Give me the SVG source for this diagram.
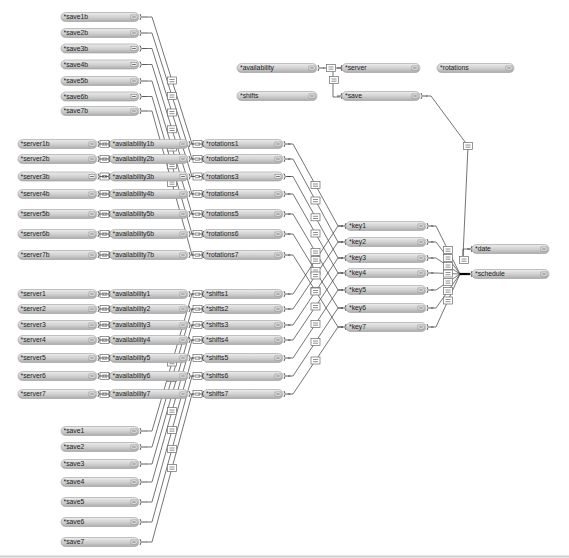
<svg xmlns="http://www.w3.org/2000/svg" xmlns:xlink="http://www.w3.org/1999/xlink" width="569" height="558" viewBox="0 0 569 558">
<style>
.n rect.b{fill:url(#g);stroke:#9a9a9a;stroke-width:.6}
.n text{font-family:"Liberation Sans",Arial,sans-serif;font-size:6.8px;fill:#222}
.ln{fill:none;stroke:#3a3a3a;stroke-width:.7}
.p{fill:none;stroke:#333;stroke-width:.8}
</style>
<defs>
<linearGradient id="g" x1="0" y1="0" x2="0" y2="1"><stop offset="0" stop-color="#ececec"/><stop offset=".5" stop-color="#d2d2d2"/><stop offset="1" stop-color="#adadad"/></linearGradient>
<g id="ni"><rect x="0" y="0" width="6" height="4" fill="#f2f2f2" stroke="#777" stroke-width=".5"/><path d="M1.2,2h3.6" stroke="#333" stroke-width=".7"/></g>
<g id="fb"><rect x="-4.5" y="-3.5" width="9" height="7" fill="#fff" stroke="#6a6a6a" stroke-width=".7"/><path d="M-2.5,-1h5M-2.5,1.2h5" stroke="#444" stroke-width=".6"/></g>
<path id="po" class="p" d="M0,-3q2.5,3 0,6M2,0h4.5"/>
<path id="pi" class="p" d="M0,-3q-2.5,3 0,6M-2,0h-3"/>
</defs>
<rect width="569" height="558" fill="#fff"/>

<g id="connectors">
<path class="ln" d="M146,17H152L192,144H193"/>
<path class="ln" d="M146,33H152L192,159H193"/>
<path class="ln" d="M146,48.5H152L192,176.5H193"/>
<path class="ln" d="M146,64.5H152L192,194H193"/>
<path class="ln" d="M146,81H152L192,214H193"/>
<path class="ln" d="M146,96.5H152L192,234H193"/>
<path class="ln" d="M146,111H152L192,255H193"/>
<path class="ln" d="M146,431H152L192,294H193"/>
<path class="ln" d="M146,447H152L192,309H193"/>
<path class="ln" d="M146,464H152L192,325H193"/>
<path class="ln" d="M146,482H152L192,340H193"/>
<path class="ln" d="M146,502H152L192,358H193"/>
<path class="ln" d="M146,522H152L192,376H193"/>
<path class="ln" d="M146,542H152L192,394H193"/>
<path class="ln" d="M104,144H108M104,159H108M104,176.5H108M104,194H108M104,214H108M104,234H108M104,255H108M104,294H108M104,309H108M104,325H108M104,340H108M104,358H108M104,376H108M104,394H108"/>
<path class="ln" d="M288,144H293L338,226H343"/>
<path class="ln" d="M288,159H293L338,242H343"/>
<path class="ln" d="M288,176.5H293L338,258H343"/>
<path class="ln" d="M288,194H293L338,273H343"/>
<path class="ln" d="M288,214H293L338,290H343"/>
<path class="ln" d="M288,234H293L338,308H343"/>
<path class="ln" d="M288,255H293L338,327H343"/>
<path class="ln" d="M288,294H293L338,226H343"/>
<path class="ln" d="M288,309H293L338,242H343"/>
<path class="ln" d="M288,325H293L338,258H343"/>
<path class="ln" d="M288,340H293L338,273H343"/>
<path class="ln" d="M288,358H293L338,290H343"/>
<path class="ln" d="M288,376H293L338,308H343"/>
<path class="ln" d="M288,394H293L338,327H343"/>
<path class="ln" d="M431,226H436L460,274"/>
<path class="ln" d="M431,242H436L460,274"/>
<path class="ln" d="M431,258H436L460,274"/>
<path class="ln" d="M431,273H436L460,274"/>
<path class="ln" d="M431,290H436L460,274"/>
<path class="ln" d="M431,308H436L460,274"/>
<path class="ln" d="M431,327H436L460,274"/>
<path d="M460,274H470" stroke="#000" stroke-width="2.2"/>
<path class="ln" d="M426,96H431L468,146L463,256M463,256V249H470"/>
<path class="ln" d="M323,68H342M333,72V97H340"/>
<use xlink:href="#fb" x="172" y="80.5"/>
<use xlink:href="#fb" x="172" y="96"/>
<use xlink:href="#fb" x="172" y="112.5"/>
<use xlink:href="#fb" x="172" y="129.3"/>
<use xlink:href="#fb" x="172" y="147.5"/>
<use xlink:href="#fb" x="172" y="165.3"/>
<use xlink:href="#fb" x="172" y="183"/>
<use xlink:href="#fb" x="172" y="362.5"/>
<use xlink:href="#fb" x="172" y="378"/>
<use xlink:href="#fb" x="172" y="394.5"/>
<use xlink:href="#fb" x="172" y="411"/>
<use xlink:href="#fb" x="172" y="430"/>
<use xlink:href="#fb" x="172" y="449"/>
<use xlink:href="#fb" x="172" y="468"/>
<use xlink:href="#fb" x="315.5" y="185"/>
<use xlink:href="#fb" x="315.5" y="200.5"/>
<use xlink:href="#fb" x="315.5" y="217.3"/>
<use xlink:href="#fb" x="315.5" y="233.5"/>
<use xlink:href="#fb" x="315.5" y="252"/>
<use xlink:href="#fb" x="315.5" y="271"/>
<use xlink:href="#fb" x="315.5" y="291"/>
<use xlink:href="#fb" x="315.5" y="260"/>
<use xlink:href="#fb" x="315.5" y="275.5"/>
<use xlink:href="#fb" x="315.5" y="291.5"/>
<use xlink:href="#fb" x="315.5" y="306.5"/>
<use xlink:href="#fb" x="315.5" y="324"/>
<use xlink:href="#fb" x="315.5" y="342"/>
<use xlink:href="#fb" x="315.5" y="360.5"/>
<use xlink:href="#fb" x="448" y="250"/>
<use xlink:href="#fb" x="448" y="258"/>
<use xlink:href="#fb" x="448" y="266"/>
<use xlink:href="#fb" x="448" y="273.5"/>
<use xlink:href="#fb" x="448" y="282"/>
<use xlink:href="#fb" x="448" y="291"/>
<use xlink:href="#fb" x="448" y="300.5"/>
<use xlink:href="#fb" x="468" y="146"/>
<use xlink:href="#fb" x="464" y="260"/>
<use xlink:href="#fb" x="334" y="80"/>
<use xlink:href="#fb" x="331" y="68"/>
<use xlink:href="#fb" x="104.5" y="144"/><use xlink:href="#fb" x="104.5" y="159"/><use xlink:href="#fb" x="104.5" y="176.5"/><use xlink:href="#fb" x="104.5" y="194"/><use xlink:href="#fb" x="104.5" y="214"/><use xlink:href="#fb" x="104.5" y="234"/><use xlink:href="#fb" x="104.5" y="255"/>
<use xlink:href="#fb" x="104.5" y="294"/><use xlink:href="#fb" x="104.5" y="309"/><use xlink:href="#fb" x="104.5" y="325"/><use xlink:href="#fb" x="104.5" y="340"/><use xlink:href="#fb" x="104.5" y="358"/><use xlink:href="#fb" x="104.5" y="376"/><use xlink:href="#fb" x="104.5" y="394"/>
<use xlink:href="#fb" x="197.5" y="144"/><use xlink:href="#fb" x="197.5" y="159"/><use xlink:href="#fb" x="197.5" y="176.5"/><use xlink:href="#fb" x="197.5" y="194"/><use xlink:href="#fb" x="197.5" y="214"/><use xlink:href="#fb" x="197.5" y="234"/><use xlink:href="#fb" x="197.5" y="255"/>
<use xlink:href="#fb" x="197.5" y="294"/><use xlink:href="#fb" x="197.5" y="309"/><use xlink:href="#fb" x="197.5" y="325"/><use xlink:href="#fb" x="197.5" y="340"/><use xlink:href="#fb" x="197.5" y="358"/><use xlink:href="#fb" x="197.5" y="376"/><use xlink:href="#fb" x="197.5" y="394"/>
</g>

<g id="save1b" class="n"><rect class="b" x="61" y="12.5" width="78" height="9" rx="4.5"/><text x="63.5" y="19.4">*save1b</text><use xlink:href="#ni" x="131" y="15"/><use xlink:href="#po" x="140" y="17"/></g>
<g id="save2b" class="n"><rect class="b" x="61" y="28.5" width="78" height="9" rx="4.5"/><text x="63.5" y="35.4">*save2b</text><use xlink:href="#ni" x="131" y="31"/><use xlink:href="#po" x="140" y="33"/></g>
<g id="save3b" class="n"><rect class="b" x="61" y="44" width="78" height="9" rx="4.5"/><text x="63.5" y="50.9">*save3b</text><use xlink:href="#ni" x="131" y="46.5"/><use xlink:href="#po" x="140" y="48.5"/></g>
<g id="save4b" class="n"><rect class="b" x="61" y="60" width="78" height="9" rx="4.5"/><text x="63.5" y="66.9">*save4b</text><use xlink:href="#ni" x="131" y="62.5"/><use xlink:href="#po" x="140" y="64.5"/></g>
<g id="save5b" class="n"><rect class="b" x="61" y="76.5" width="78" height="9" rx="4.5"/><text x="63.5" y="83.4">*save5b</text><use xlink:href="#ni" x="131" y="79"/><use xlink:href="#po" x="140" y="81"/></g>
<g id="save6b" class="n"><rect class="b" x="61" y="92" width="78" height="9" rx="4.5"/><text x="63.5" y="98.9">*save6b</text><use xlink:href="#ni" x="131" y="94.5"/><use xlink:href="#po" x="140" y="96.5"/></g>
<g id="save7b" class="n"><rect class="b" x="61" y="106.5" width="78" height="9" rx="4.5"/><text x="63.5" y="113.4">*save7b</text><use xlink:href="#ni" x="131" y="109"/><use xlink:href="#po" x="140" y="111"/></g>

<g id="server1b" class="n"><rect class="b" x="18" y="139.5" width="79" height="9" rx="4.5"/><text x="20.5" y="146.4">*server1b</text><use xlink:href="#ni" x="89" y="142"/><use xlink:href="#po" x="98" y="144"/></g>
<g id="server2b" class="n"><rect class="b" x="18" y="154.5" width="79" height="9" rx="4.5"/><text x="20.5" y="161.4">*server2b</text><use xlink:href="#ni" x="89" y="157"/><use xlink:href="#po" x="98" y="159"/></g>
<g id="server3b" class="n"><rect class="b" x="18" y="172" width="79" height="9" rx="4.5"/><text x="20.5" y="178.9">*server3b</text><use xlink:href="#ni" x="89" y="174.5"/><use xlink:href="#po" x="98" y="176.5"/></g>
<g id="server4b" class="n"><rect class="b" x="18" y="189.5" width="79" height="9" rx="4.5"/><text x="20.5" y="196.4">*server4b</text><use xlink:href="#ni" x="89" y="192"/><use xlink:href="#po" x="98" y="194"/></g>
<g id="server5b" class="n"><rect class="b" x="18" y="209.5" width="79" height="9" rx="4.5"/><text x="20.5" y="216.4">*server5b</text><use xlink:href="#ni" x="89" y="212"/><use xlink:href="#po" x="98" y="214"/></g>
<g id="server6b" class="n"><rect class="b" x="18" y="229.5" width="79" height="9" rx="4.5"/><text x="20.5" y="236.4">*server6b</text><use xlink:href="#ni" x="89" y="232"/><use xlink:href="#po" x="98" y="234"/></g>
<g id="server7b" class="n"><rect class="b" x="18" y="250.5" width="79" height="9" rx="4.5"/><text x="20.5" y="257.4">*server7b</text><use xlink:href="#ni" x="89" y="253"/><use xlink:href="#po" x="98" y="255"/></g>

<g id="availability1b" class="n"><rect class="b" x="110" y="139.5" width="78" height="9" rx="4.5"/><text x="112.5" y="146.4">*availability1b</text><use xlink:href="#ni" x="180" y="142"/><use xlink:href="#po" x="189" y="144"/><use xlink:href="#pi" x="110" y="144"/></g>
<g id="availability2b" class="n"><rect class="b" x="110" y="154.5" width="78" height="9" rx="4.5"/><text x="112.5" y="161.4">*availability2b</text><use xlink:href="#ni" x="180" y="157"/><use xlink:href="#po" x="189" y="159"/><use xlink:href="#pi" x="110" y="159"/></g>
<g id="availability3b" class="n"><rect class="b" x="110" y="172" width="78" height="9" rx="4.5"/><text x="112.5" y="178.9">*availability3b</text><use xlink:href="#ni" x="180" y="174.5"/><use xlink:href="#po" x="189" y="176.5"/><use xlink:href="#pi" x="110" y="176.5"/></g>
<g id="availability4b" class="n"><rect class="b" x="110" y="189.5" width="78" height="9" rx="4.5"/><text x="112.5" y="196.4">*availability4b</text><use xlink:href="#ni" x="180" y="192"/><use xlink:href="#po" x="189" y="194"/><use xlink:href="#pi" x="110" y="194"/></g>
<g id="availability5b" class="n"><rect class="b" x="110" y="209.5" width="78" height="9" rx="4.5"/><text x="112.5" y="216.4">*availability5b</text><use xlink:href="#ni" x="180" y="212"/><use xlink:href="#po" x="189" y="214"/><use xlink:href="#pi" x="110" y="214"/></g>
<g id="availability6b" class="n"><rect class="b" x="110" y="229.5" width="78" height="9" rx="4.5"/><text x="112.5" y="236.4">*availability6b</text><use xlink:href="#ni" x="180" y="232"/><use xlink:href="#po" x="189" y="234"/><use xlink:href="#pi" x="110" y="234"/></g>
<g id="availability7b" class="n"><rect class="b" x="110" y="250.5" width="78" height="9" rx="4.5"/><text x="112.5" y="257.4">*availability7b</text><use xlink:href="#ni" x="180" y="253"/><use xlink:href="#po" x="189" y="255"/><use xlink:href="#pi" x="110" y="255"/></g>

<g id="rotations1" class="n"><rect class="b" x="203" y="139.5" width="80" height="9" rx="4.5"/><text x="206" y="146.4">*rotations1</text><use xlink:href="#ni" x="275" y="142"/><use xlink:href="#po" x="284" y="144"/><use xlink:href="#pi" x="203.5" y="144"/></g>
<g id="rotations2" class="n"><rect class="b" x="203" y="154.5" width="80" height="9" rx="4.5"/><text x="206" y="161.4">*rotations2</text><use xlink:href="#ni" x="275" y="157"/><use xlink:href="#po" x="284" y="159"/><use xlink:href="#pi" x="203.5" y="159"/></g>
<g id="rotations3" class="n"><rect class="b" x="203" y="172" width="80" height="9" rx="4.5"/><text x="206" y="178.9">*rotations3</text><use xlink:href="#ni" x="275" y="174.5"/><use xlink:href="#po" x="284" y="176.5"/><use xlink:href="#pi" x="203.5" y="176.5"/></g>
<g id="rotations4" class="n"><rect class="b" x="203" y="189.5" width="80" height="9" rx="4.5"/><text x="206" y="196.4">*rotations4</text><use xlink:href="#ni" x="275" y="192"/><use xlink:href="#po" x="284" y="194"/><use xlink:href="#pi" x="203.5" y="194"/></g>
<g id="rotations5" class="n"><rect class="b" x="203" y="209.5" width="80" height="9" rx="4.5"/><text x="206" y="216.4">*rotations5</text><use xlink:href="#ni" x="275" y="212"/><use xlink:href="#po" x="284" y="214"/><use xlink:href="#pi" x="203.5" y="214"/></g>
<g id="rotations6" class="n"><rect class="b" x="203" y="229.5" width="80" height="9" rx="4.5"/><text x="206" y="236.4">*rotations6</text><use xlink:href="#ni" x="275" y="232"/><use xlink:href="#po" x="284" y="234"/><use xlink:href="#pi" x="203.5" y="234"/></g>
<g id="rotations7" class="n"><rect class="b" x="203" y="250.5" width="80" height="9" rx="4.5"/><text x="206" y="257.4">*rotations7</text><use xlink:href="#ni" x="275" y="253"/><use xlink:href="#po" x="284" y="255"/><use xlink:href="#pi" x="203.5" y="255"/></g>

<g id="server1" class="n"><rect class="b" x="18" y="289.5" width="79" height="9" rx="4.5"/><text x="20.5" y="296.4">*server1</text><use xlink:href="#ni" x="89" y="292"/><use xlink:href="#po" x="98" y="294"/></g>
<g id="server2" class="n"><rect class="b" x="18" y="304.5" width="79" height="9" rx="4.5"/><text x="20.5" y="311.4">*server2</text><use xlink:href="#ni" x="89" y="307"/><use xlink:href="#po" x="98" y="309"/></g>
<g id="server3" class="n"><rect class="b" x="18" y="320.5" width="79" height="9" rx="4.5"/><text x="20.5" y="327.4">*server3</text><use xlink:href="#ni" x="89" y="323"/><use xlink:href="#po" x="98" y="325"/></g>
<g id="server4" class="n"><rect class="b" x="18" y="335.5" width="79" height="9" rx="4.5"/><text x="20.5" y="342.4">*server4</text><use xlink:href="#ni" x="89" y="338"/><use xlink:href="#po" x="98" y="340"/></g>
<g id="server5" class="n"><rect class="b" x="18" y="353.5" width="79" height="9" rx="4.5"/><text x="20.5" y="360.4">*server5</text><use xlink:href="#ni" x="89" y="356"/><use xlink:href="#po" x="98" y="358"/></g>
<g id="server6" class="n"><rect class="b" x="18" y="371.5" width="79" height="9" rx="4.5"/><text x="20.5" y="378.4">*server6</text><use xlink:href="#ni" x="89" y="374"/><use xlink:href="#po" x="98" y="376"/></g>
<g id="server7" class="n"><rect class="b" x="18" y="389.5" width="79" height="9" rx="4.5"/><text x="20.5" y="396.4">*server7</text><use xlink:href="#ni" x="89" y="392"/><use xlink:href="#po" x="98" y="394"/></g>

<g id="availability1" class="n"><rect class="b" x="110" y="289.5" width="78" height="9" rx="4.5"/><text x="112.5" y="296.4">*availability1</text><use xlink:href="#ni" x="180" y="292"/><use xlink:href="#po" x="189" y="294"/><use xlink:href="#pi" x="110" y="294"/></g>
<g id="availability2" class="n"><rect class="b" x="110" y="304.5" width="78" height="9" rx="4.5"/><text x="112.5" y="311.4">*availability2</text><use xlink:href="#ni" x="180" y="307"/><use xlink:href="#po" x="189" y="309"/><use xlink:href="#pi" x="110" y="309"/></g>
<g id="availability3" class="n"><rect class="b" x="110" y="320.5" width="78" height="9" rx="4.5"/><text x="112.5" y="327.4">*availability3</text><use xlink:href="#ni" x="180" y="323"/><use xlink:href="#po" x="189" y="325"/><use xlink:href="#pi" x="110" y="325"/></g>
<g id="availability4" class="n"><rect class="b" x="110" y="335.5" width="78" height="9" rx="4.5"/><text x="112.5" y="342.4">*availability4</text><use xlink:href="#ni" x="180" y="338"/><use xlink:href="#po" x="189" y="340"/><use xlink:href="#pi" x="110" y="340"/></g>
<g id="availability5" class="n"><rect class="b" x="110" y="353.5" width="78" height="9" rx="4.5"/><text x="112.5" y="360.4">*availability5</text><use xlink:href="#ni" x="180" y="356"/><use xlink:href="#po" x="189" y="358"/><use xlink:href="#pi" x="110" y="358"/></g>
<g id="availability6" class="n"><rect class="b" x="110" y="371.5" width="78" height="9" rx="4.5"/><text x="112.5" y="378.4">*availability6</text><use xlink:href="#ni" x="180" y="374"/><use xlink:href="#po" x="189" y="376"/><use xlink:href="#pi" x="110" y="376"/></g>
<g id="availability7" class="n"><rect class="b" x="110" y="389.5" width="78" height="9" rx="4.5"/><text x="112.5" y="396.4">*availability7</text><use xlink:href="#ni" x="180" y="392"/><use xlink:href="#po" x="189" y="394"/><use xlink:href="#pi" x="110" y="394"/></g>

<g id="shifts1" class="n"><rect class="b" x="203" y="289.5" width="80" height="9" rx="4.5"/><text x="206" y="296.4">*shifts1</text><use xlink:href="#ni" x="275" y="292"/><use xlink:href="#po" x="284" y="294"/><use xlink:href="#pi" x="203.5" y="294"/></g>
<g id="shifts2" class="n"><rect class="b" x="203" y="304.5" width="80" height="9" rx="4.5"/><text x="206" y="311.4">*shifts2</text><use xlink:href="#ni" x="275" y="307"/><use xlink:href="#po" x="284" y="309"/><use xlink:href="#pi" x="203.5" y="309"/></g>
<g id="shifts3" class="n"><rect class="b" x="203" y="320.5" width="80" height="9" rx="4.5"/><text x="206" y="327.4">*shifts3</text><use xlink:href="#ni" x="275" y="323"/><use xlink:href="#po" x="284" y="325"/><use xlink:href="#pi" x="203.5" y="325"/></g>
<g id="shifts4" class="n"><rect class="b" x="203" y="335.5" width="80" height="9" rx="4.5"/><text x="206" y="342.4">*shifts4</text><use xlink:href="#ni" x="275" y="338"/><use xlink:href="#po" x="284" y="340"/><use xlink:href="#pi" x="203.5" y="340"/></g>
<g id="shifts5" class="n"><rect class="b" x="203" y="353.5" width="80" height="9" rx="4.5"/><text x="206" y="360.4">*shifts5</text><use xlink:href="#ni" x="275" y="356"/><use xlink:href="#po" x="284" y="358"/><use xlink:href="#pi" x="203.5" y="358"/></g>
<g id="shifts6" class="n"><rect class="b" x="203" y="371.5" width="80" height="9" rx="4.5"/><text x="206" y="378.4">*shifts6</text><use xlink:href="#ni" x="275" y="374"/><use xlink:href="#po" x="284" y="376"/><use xlink:href="#pi" x="203.5" y="376"/></g>
<g id="shifts7" class="n"><rect class="b" x="203" y="389.5" width="80" height="9" rx="4.5"/><text x="206" y="396.4">*shifts7</text><use xlink:href="#ni" x="275" y="392"/><use xlink:href="#po" x="284" y="394"/><use xlink:href="#pi" x="203.5" y="394"/></g>

<g id="save1" class="n"><rect class="b" x="61" y="426.5" width="78" height="9" rx="4.5"/><text x="63.5" y="433.4">*save1</text><use xlink:href="#ni" x="131" y="429"/><use xlink:href="#po" x="140" y="431"/></g>
<g id="save2" class="n"><rect class="b" x="61" y="442.5" width="78" height="9" rx="4.5"/><text x="63.5" y="449.4">*save2</text><use xlink:href="#ni" x="131" y="445"/><use xlink:href="#po" x="140" y="447"/></g>
<g id="save3" class="n"><rect class="b" x="61" y="459.5" width="78" height="9" rx="4.5"/><text x="63.5" y="466.4">*save3</text><use xlink:href="#ni" x="131" y="462"/><use xlink:href="#po" x="140" y="464"/></g>
<g id="save4" class="n"><rect class="b" x="61" y="477.5" width="78" height="9" rx="4.5"/><text x="63.5" y="484.4">*save4</text><use xlink:href="#ni" x="131" y="480"/><use xlink:href="#po" x="140" y="482"/></g>
<g id="save5" class="n"><rect class="b" x="61" y="497.5" width="78" height="9" rx="4.5"/><text x="63.5" y="504.4">*save5</text><use xlink:href="#ni" x="131" y="500"/><use xlink:href="#po" x="140" y="502"/></g>
<g id="save6" class="n"><rect class="b" x="61" y="517.5" width="78" height="9" rx="4.5"/><text x="63.5" y="524.4">*save6</text><use xlink:href="#ni" x="131" y="520"/><use xlink:href="#po" x="140" y="522"/></g>
<g id="save7" class="n"><rect class="b" x="61" y="537.5" width="78" height="9" rx="4.5"/><text x="63.5" y="544.4">*save7</text><use xlink:href="#ni" x="131" y="540"/><use xlink:href="#po" x="140" y="542"/></g>

<g id="key1" class="n"><rect class="b" x="346" y="221.5" width="80" height="9" rx="4.5"/><text x="349" y="228.4">*key1</text><use xlink:href="#ni" x="418" y="224"/><use xlink:href="#po" x="427" y="226"/><use xlink:href="#pi" x="346" y="226"/></g>
<g id="key2" class="n"><rect class="b" x="346" y="237.5" width="80" height="9" rx="4.5"/><text x="349" y="244.4">*key2</text><use xlink:href="#ni" x="418" y="240"/><use xlink:href="#po" x="427" y="242"/><use xlink:href="#pi" x="346" y="242"/></g>
<g id="key3" class="n"><rect class="b" x="346" y="253.5" width="80" height="9" rx="4.5"/><text x="349" y="260.4">*key3</text><use xlink:href="#ni" x="418" y="256"/><use xlink:href="#po" x="427" y="258"/><use xlink:href="#pi" x="346" y="258"/></g>
<g id="key4" class="n"><rect class="b" x="346" y="268.5" width="80" height="9" rx="4.5"/><text x="349" y="275.4">*key4</text><use xlink:href="#ni" x="418" y="271"/><use xlink:href="#po" x="427" y="273"/><use xlink:href="#pi" x="346" y="273"/></g>
<g id="key5" class="n"><rect class="b" x="346" y="285.5" width="80" height="9" rx="4.5"/><text x="349" y="292.4">*key5</text><use xlink:href="#ni" x="418" y="288"/><use xlink:href="#po" x="427" y="290"/><use xlink:href="#pi" x="346" y="290"/></g>
<g id="key6" class="n"><rect class="b" x="346" y="303.5" width="80" height="9" rx="4.5"/><text x="349" y="310.4">*key6</text><use xlink:href="#ni" x="418" y="306"/><use xlink:href="#po" x="427" y="308"/><use xlink:href="#pi" x="346" y="308"/></g>
<g id="key7" class="n"><rect class="b" x="346" y="322.5" width="80" height="9" rx="4.5"/><text x="349" y="329.4">*key7</text><use xlink:href="#ni" x="418" y="325"/><use xlink:href="#po" x="427" y="327"/><use xlink:href="#pi" x="346" y="327"/></g>

<g id="date" class="n"><rect class="b" x="472" y="244.5" width="77" height="9" rx="4.5"/><text x="475" y="251.4">*date</text><use xlink:href="#ni" x="541" y="247"/><use xlink:href="#pi" x="472" y="249"/></g>
<g id="schedule" class="n"><rect class="b" x="472" y="269.5" width="77" height="9" rx="4.5"/><text x="475" y="276.4">*schedule</text><use xlink:href="#ni" x="541" y="272"/><use xlink:href="#pi" x="472" y="274"/></g>

<g id="availability" class="n"><rect class="b" x="237" y="63.5" width="80" height="9" rx="4.5"/><text x="240" y="70.4">*availability</text><use xlink:href="#ni" x="309" y="66"/><use xlink:href="#po" x="318" y="68"/></g>
<g id="server" class="n"><rect class="b" x="342" y="63.5" width="78" height="9" rx="4.5"/><text x="345" y="70.4">*server</text><use xlink:href="#ni" x="412" y="66"/><use xlink:href="#pi" x="342" y="68"/></g>
<g id="shifts" class="n"><rect class="b" x="237" y="91.5" width="80" height="9" rx="4.5"/><text x="240" y="98.4">*shifts</text><use xlink:href="#ni" x="309" y="94"/></g>
<g id="save" class="n"><rect class="b" x="342" y="91.5" width="78" height="9" rx="4.5"/><text x="345" y="98.4">*save</text><use xlink:href="#ni" x="412" y="94"/><use xlink:href="#pi" x="342" y="96"/><use xlink:href="#po" x="421" y="96"/></g>
<g id="rotations" class="n"><rect class="b" x="437" y="63.5" width="77" height="9" rx="4.5"/><text x="440" y="70.4">*rotations</text><use xlink:href="#ni" x="506" y="66"/></g>

<path d="M0,556.5H569" stroke="#cfcfcf" stroke-width="2"/>
</svg>
